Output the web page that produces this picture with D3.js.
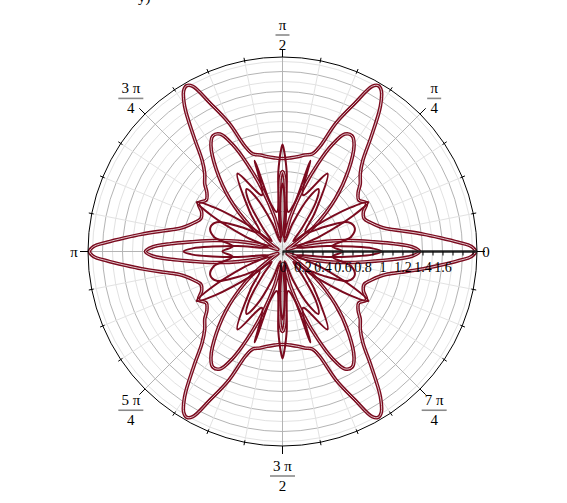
<!DOCTYPE html>
<meta charset="utf-8">
<style>
body { margin: 0; background: #fff; }
text { font-family: 'Liberation Serif', 'Times New Roman', serif; fill: #000; }
.grid-major { fill: none; stroke: #b4b4b4; stroke-width: 1; }
.grid-minor { fill: none; stroke: #e2e2e2; stroke-width: 1; }
.curve { fill: none; stroke: #7a0a1e; stroke-width: 2; stroke-linejoin: round; }
.curve-gap { fill: none; stroke: #fff; stroke-width: 0.9; opacity: 0.85; }
</style>
<svg id="chart" width="567" height="503"></svg>
<script src="https://cdn.jsdelivr.net/npm/d3@7/dist/d3.min.js"></script>
<script>

// radial axis
var radialTicks = [0, 0.1, 0.2, 0.3, 0.4, 0.5, 0.6, 0.7, 0.8, 0.9, 1, 1.1, 1.2, 1.3, 1.4, 1.5, 1.6, 1.7, 1.8, 1.9];
var radialLabels = ["0", "", "0.2", "", "0.4", "", "0.6", "", "0.8", "", "1", "", "1.2", "", "1.4", "", "1.6", "", "", ""];
var gridRadii = [0.1, 0.2, 0.3, 0.4, 0.5, 0.6, 0.7, 0.8, 0.9, 1, 1.1, 1.2, 1.3, 1.4, 1.5, 1.6, 1.7, 1.8, 1.9];

// angular axis (degrees)
var angleTicks = d3.range(0, 360, 11.25);
var labelAngles = [0, 45, 90, 135, 180, 225, 270, 315];
var labelNum = ["0", "\u03c0", "\u03c0", "3 \u03c0", "\u03c0", "5 \u03c0", "3 \u03c0", "7 \u03c0"];
var labelDen = ["", "4", "2", "4", "", "4", "2", "4"];

// curves, first quadrant only [angle deg, r]; the plot is mirror symmetric in both axes
var curveOuter = [[0,1.93],[1.5,1.89],[3,1.76],[5,1.58],[7,1.42],[10,1.2],[12.5,1.06],[14.5,1.0],[18,0.93],[22,0.88],[26,0.9],[30,0.97],[34,0.92],[38,0.96],[41,1.03],[45,1.1],[48.7,1.22],[52.3,1.45],[56,1.75],[58.5,1.89],[60,1.915],[61.5,1.88],[64,1.65],[67.4,1.39],[70.5,1.11],[73,1.02],[77,0.99],[81,0.96],[85,0.94],[88,0.93],[90,0.93]];
var curveMid = [[0,1.37],[2,1.3],[4,1.12],[6,0.92],[9,0.7],[13,0.45],[18,0.2],[24,0.05],[30,0.1],[38,0.4],[45,0.75],[51,1.05],[56,1.28],[59,1.35],[62,1.33],[65,1.18],[68,0.95],[72,0.65],[77,0.35],[82,0.15],[86,0.4],[88.5,0.75],[90,0.8]];
var curveInner = [[0,0.99],[2,0.9],[4,0.7],[7,0.45],[11,0.2],[16,0.15],[22,0.4],[27,0.8],[30,0.99],[33,0.8],[38,0.4],[44,0.15],[50,0.3],[56,0.6],[60,0.72],[64,0.6],[70,0.3],[78,0.1],[85,0.3],[88.5,0.6],[90,0.68]];
var curveThin = [[0,0.6],[6,0.5],[12,0.7],[18,0.76],[24,0.72],[30,0.5],[40,0.3],[50,0.5],[60,0.9],[70,0.6],[73,0.95],[76,0.5],[82,0.4],[87,0.8],[89,1.0],[90,1.07]];

var svg = d3.select("#chart");
var cx = 282.5, cy = 251.5, R = 194.5;

var r = d3.scaleLinear().domain([0, 1.945]).range([0, R]);
// math angle (ccw from +x, degrees) -> d3 radial angle (cw from 12 o'clock)
var ang = d3.scaleLinear().domain([0, 360]).range([Math.PI / 2, Math.PI / 2 - 2 * Math.PI]);

function pos(deg, rad) {
  var t = deg * Math.PI / 180;
  return [cx + rad * Math.cos(t), cy - rad * Math.sin(t)];
}

var g = svg.append("g").attr("transform", "translate(" + cx + "," + cy + ")");

// grid circles
g.selectAll("circle.grid")
  .data(gridRadii)
  .enter().append("circle")
    .attr("class", function(d) { return Math.round(d * 10) % 2 == 0 ? "grid-major" : "grid-minor"; })
    .attr("r", function(d) { return r(d); });

// spokes
g.selectAll("line.spoke")
  .data(angleTicks)
  .enter().append("line")
    .attr("class", function(d) { return d % 45 == 0 ? "grid-major" : "grid-minor"; })
    .attr("x1", 0).attr("y1", 0)
    .attr("x2", function(d) { return pos(d, R)[0] - cx; })
    .attr("y2", function(d) { return pos(d, R)[1] - cy; });

// curves
function fullCurve(q) {
  var rev = q.slice().reverse();
  var pts = q.slice();
  rev.slice(1).forEach(function(d) { pts.push([180 - d[0], d[1]]); });
  q.slice(1).forEach(function(d) { pts.push([180 + d[0], d[1]]); });
  rev.slice(1, rev.length - 1).forEach(function(d) { pts.push([360 - d[0], d[1]]); });
  return pts;
}

var line = d3.lineRadial()
  .angle(function(d) { return ang(d[0]); })
  .radius(function(d) { return r(d[1]); })
  .curve(d3.curveCatmullRomClosed.alpha(0.5));

var curves = [
  {pts: curveOuter, dbl: true},
  {pts: curveMid, dbl: true},
  {pts: curveInner, dbl: false},
  {pts: curveThin, dbl: false}
];

curves.forEach(function(c) {
  var d = line(fullCurve(c.pts));
  g.append("path").attr("class", "curve").attr("d", d)
    .style("stroke-width", c.dbl ? 3.6 : 2);
  if (c.dbl) g.append("path").attr("class", "curve-gap").attr("d", d);
});

// outer circle
g.append("circle").attr("r", R).attr("fill", "none").attr("stroke", "#000").attr("stroke-width", 1);

// angular ticks
g.selectAll("line.atick")
  .data(angleTicks)
  .enter().append("line")
    .attr("stroke", "#000")
    .attr("x1", function(d) { return pos(d, R - (d % 45 == 0 ? 0 : 2))[0] - cx; })
    .attr("y1", function(d) { return pos(d, R - (d % 45 == 0 ? 0 : 2))[1] - cy; })
    .attr("x2", function(d) { return pos(d, R + (d % 45 == 0 ? 8 : 3))[0] - cx; })
    .attr("y2", function(d) { return pos(d, R + (d % 45 == 0 ? 8 : 3))[1] - cy; });

// angle labels (labels below the centre sit a little further out)
labelAngles.forEach(function(a, i) {
  var s = Math.sin(a * Math.PI / 180);
  var dy = s < 0 ? -s * 10 : -s * 2;
  if (labelDen[i] == "") {
    var p = pos(a, R + (a == 180 ? 14 : 9));
    svg.append("text").attr("x", p[0]).attr("y", p[1] + 5)
      .attr("text-anchor", "middle").style("font-size", "15px").text(labelNum[i]);
  } else {
    var p = pos(a, R + 20);
    p[1] += dy;
    var w = labelNum[i].length > 1 ? 25 : 14;
    svg.append("text").attr("x", p[0]).attr("y", p[1] - 5)
      .attr("text-anchor", "middle").style("font-size", "15px").text(labelNum[i]);
    svg.append("line")
      .attr("x1", p[0] - w / 2).attr("x2", p[0] + w / 2)
      .attr("y1", p[1]).attr("y2", p[1])
      .attr("stroke", "#8a8a8a").attr("stroke-width", 1.6);
    svg.append("text").attr("x", p[0]).attr("y", p[1] + 15)
      .attr("text-anchor", "middle").style("font-size", "15px").text(labelDen[i]);
  }
});

// radial axis along angle 0
var axis = d3.axisBottom(r)
  .tickValues(radialTicks)
  .tickSize(4)
  .tickPadding(7)
  .tickFormat(function(d, i) { return radialLabels[i]; });

var ax = svg.append("g")
  .attr("transform", "translate(" + cx + "," + cy + ")")
  .call(axis);
ax.select(".domain").attr("stroke", "#222").attr("stroke-width", 2.4).attr("d", "M0,0H" + R);
ax.selectAll(".tick line").attr("stroke", "#000");
ax.selectAll(".tick text").style("font-size", "14px").style("font-family", "'Liberation Serif', serif").attr("fill", "#000");

// clipped title remnant at top
svg.append("text").attr("x", 138).attr("y", 2).style("font-size", "15px")
  .attr("fill", "#7a0a1e").text("y)");

</script>
